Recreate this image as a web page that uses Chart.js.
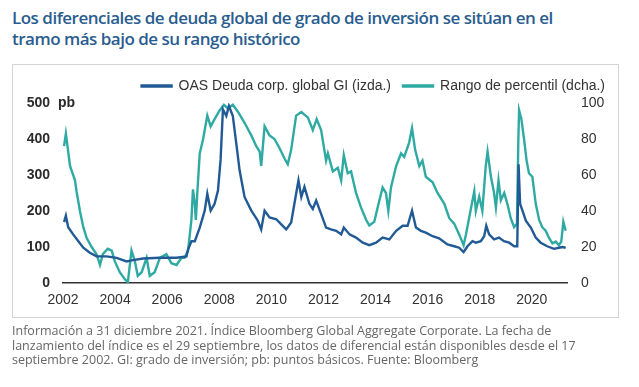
<!DOCTYPE html>
<html>
<head>
<meta charset="utf-8">
<script src="https://cdn.jsdelivr.net/npm/chart.js@4"></script>
<style>
  html, body { margin: 0; padding: 0; background: #fff; }
  body { width: 639px; height: 387px; position: relative; overflow: hidden; }
  #titulo {
    position: absolute; left: 12px; top: 7px;
    font-family: "Open Sans", sans-serif; font-size: 17px; line-height: 21px;
    font-weight: 600; color: #2a5d8f; letter-spacing: -0.5px;
  }
  #marco {
    position: absolute; left: 12px; top: 64px; width: 605px; height: 252px;
    border: 1px solid #d4d4d4;
  }
  #lienzo { position: absolute; left: 0; top: 0; width: 639px; height: 387px; }
  #nota {
    position: absolute; left: 12px; top: 324px;
    font-family: "Open Sans", sans-serif; font-size: 12.5px; line-height: 14.7px;
    color: #666;
  }
</style>
</head>
<body>
<div id="titulo">Los diferenciales de deuda global de grado de inversión se sitúan en el<br>tramo más bajo de su rango histórico</div>
<div id="marco"></div>
<div id="lienzo"><canvas id="grafico" width="639" height="387"></canvas></div>
<div id="nota">Información a 31 diciembre 2021. Índice Bloomberg Global Aggregate Corporate. La fecha de<br>lanzamiento del índice es el 29 septiembre, los datos de diferencial están disponibles desde el 17<br>septiembre 2002. GI: grado de inversión; pb: puntos básicos. Fuente: Bloomberg</div>
<script>
  // OAS (pb, eje izquierdo)
  var anosOas = [
    2002.04, 2002.11, 2002.20, 2002.39, 2002.59, 2002.78, 2003.03, 2003.29, 2003.67, 2004.06,
    2004.44, 2004.63, 2005.08, 2005.72, 2006.36, 2006.74, 2006.80, 2006.93, 2007.06, 2007.25,
    2007.44, 2007.54, 2007.67, 2007.82, 2007.95, 2008.05, 2008.14, 2008.27, 2008.37, 2008.52,
    2008.65, 2008.78, 2008.97, 2009.23, 2009.48, 2009.61, 2009.74, 2009.93, 2010.19, 2010.38,
    2010.57, 2010.76, 2010.95, 2011.04, 2011.15, 2011.27, 2011.46, 2011.59, 2011.72, 2011.91,
    2012.10, 2012.29, 2012.49, 2012.68, 2012.78, 2013.00, 2013.25, 2013.51, 2013.76, 2014.02,
    2014.27, 2014.53, 2014.79, 2015.04, 2015.23, 2015.40, 2015.55, 2015.74, 2015.93, 2016.19,
    2016.44, 2016.76, 2017.02, 2017.21, 2017.38, 2017.53, 2017.72, 2017.85, 2018.04, 2018.17,
    2018.25, 2018.36, 2018.55, 2018.74, 2018.93, 2019.13, 2019.32, 2019.44, 2019.49, 2019.55,
    2019.64, 2019.77, 2019.96, 2020.15, 2020.34, 2020.59, 2020.85, 2021.04, 2021.17, 2021.30
  ];
  var oas = [
    169, 187, 155, 135, 116, 98, 84, 74, 74, 70,
    60, 63, 68, 70, 70, 74, 93, 116, 116, 154,
    201, 248, 201, 220, 257, 342, 482, 464, 492, 464,
    389, 313, 239, 201, 173, 149, 201, 182, 177, 163,
    149, 168, 248, 285, 239, 267, 220, 206, 229, 192,
    154, 149, 145, 135, 154, 135, 126, 112, 105, 112,
    126, 121, 145, 159, 159, 201, 154, 145, 140, 130,
    124, 107, 102, 98, 86, 102, 116, 112, 116, 130,
    159, 135, 121, 126, 116, 112, 102, 102, 330, 220,
    201, 173, 154, 126, 112, 102, 95, 98, 100, 98
  ];

  // Rango de percentil (eje derecho)
  var anosPercentil = [
    2002.04, 2002.11, 2002.27, 2002.46, 2002.52, 2002.65, 2002.78, 2002.91, 2003.10, 2003.29,
    2003.42, 2003.53, 2003.72, 2003.87, 2003.99, 2004.18, 2004.38, 2004.49, 2004.63, 2004.76,
    2004.87, 2005.02, 2005.21, 2005.33, 2005.52, 2005.72, 2005.97, 2006.16, 2006.36, 2006.55,
    2006.67, 2006.80, 2006.93, 2006.99, 2007.06, 2007.10, 2007.16, 2007.25, 2007.38, 2007.54,
    2007.67, 2007.82, 2008.02, 2008.18, 2008.33, 2008.52, 2008.72, 2008.97, 2009.23, 2009.42,
    2009.55, 2009.61, 2009.74, 2009.93, 2010.12, 2010.31, 2010.51, 2010.63, 2010.76, 2010.95,
    2011.15, 2011.40, 2011.59, 2011.74, 2011.91, 2012.10, 2012.17, 2012.36, 2012.55, 2012.68,
    2012.78, 2012.93, 2013.06, 2013.25, 2013.44, 2013.64, 2013.76, 2013.95, 2014.08, 2014.27,
    2014.40, 2014.49, 2014.59, 2014.79, 2014.98, 2015.10, 2015.29, 2015.40, 2015.52, 2015.68,
    2015.80, 2015.93, 2016.19, 2016.38, 2016.64, 2016.83, 2017.02, 2017.21, 2017.38, 2017.47,
    2017.59, 2017.79, 2017.85, 2017.98, 2018.10, 2018.23, 2018.30, 2018.43, 2018.55, 2018.62,
    2018.72, 2018.81, 2018.94, 2019.06, 2019.19, 2019.32, 2019.43, 2019.48, 2019.51, 2019.60,
    2019.70, 2019.80, 2019.89, 2020.02, 2020.15, 2020.28, 2020.40, 2020.53, 2020.66, 2020.79,
    2020.92, 2021.04, 2021.13, 2021.21, 2021.30
  ];
  var percentil = [
    76, 83, 65, 57, 51, 40, 31, 25, 20, 16,
    10, 16, 19, 18, 12, 6, 2, 0.5, 18, 12,
    4, 6, 14, 4, 6, 14, 16, 11, 10, 14,
    14, 18, 35, 52, 44, 35, 51, 72, 80, 93,
    87, 91, 96, 99, 97, 99, 95, 89, 82, 76,
    73, 65, 87, 82, 80, 75, 69, 66, 74, 93,
    95, 92, 85, 91, 85, 68, 72, 62, 64, 57,
    71, 61, 62, 50, 42, 35, 32, 34, 42, 53,
    50, 40, 53, 65, 72, 70, 78, 86, 74, 65,
    68, 59, 56, 50, 44, 36, 33, 27, 21, 27,
    36, 51, 40, 48, 40, 65, 73, 59, 50, 42,
    57, 46, 50, 44, 36, 31, 33, 78, 96, 91,
    80, 68, 61, 59, 44, 35, 31, 29, 25, 22,
    23, 21, 23, 34, 29
  ];

  var etiquetasX = [2002, 2004, 2006, 2008, 2010, 2012, 2014, 2016, 2018, 2020];
  var etiquetasIzq = [0, 100, 200, 300, 400, 500];
  var etiquetasDer = [0, 20, 40, 60, 80, 100];

  var AZUL = '#215a94';
  var TURQUESA = '#2faaa2';

  function puntos(xs, ys) {
    return xs.map(function (x, i) { return { x: x, y: ys[i] }; });
  }

  // "pb" junto a la etiqueta superior del eje izquierdo
  var unidadPb = {
    id: 'unidadPb',
    afterDraw: function (chart) {
      var ctx = chart.ctx;
      var y = chart.scales.y;
      ctx.save();
      ctx.font = 'bold 14px "Liberation Sans", Arial, sans-serif';
      ctx.fillStyle = '#2b2b2b';
      ctx.textBaseline = 'middle';
      ctx.textAlign = 'left';
      ctx.fillText('pb', chart.chartArea.left - 5, y.getPixelForValue(500));
      ctx.restore();
    }
  };

  Chart.defaults.font.family = '"Liberation Sans", Arial, sans-serif';
  Chart.defaults.font.size = 14;
  Chart.defaults.color = '#333';

  new Chart(document.getElementById('grafico'), {
    type: 'line',
    data: {
      datasets: [
        {
          label: 'OAS Deuda corp. global GI (izda.)',
          data: puntos(anosOas, oas),
          borderColor: AZUL,
          backgroundColor: AZUL,
          borderWidth: 2.4,
          pointRadius: 0,
          tension: 0,
          yAxisID: 'y',
          order: 1,
        },
        {
          label: 'Rango de percentil (dcha.)',
          data: puntos(anosPercentil, percentil),
          borderColor: TURQUESA,
          backgroundColor: TURQUESA,
          borderWidth: 2.4,
          pointRadius: 0,
          tension: 0,
          yAxisID: 'y2',
          order: 2,
        },
      ],
    },
    options: {
      responsive: false,
      animation: false,
      layout: { padding: { top: 67, right: 22, left: 0, bottom: 0 } },
      plugins: {
        legend: {
          position: 'top',
          align: 'end',
          labels: {
            boxWidth: 30,
            boxHeight: 1,
            padding: 12,
            color: '#333',
            font: { size: 14 },
          },
        },
        tooltip: { enabled: false },
      },
      scales: {
        x: {
          type: 'linear',
          min: 2002,
          max: 2021.35,
          afterBuildTicks: function (scale) {
            scale.ticks = etiquetasX.map(function (v) { return { value: v }; });
          },
          afterFit: function (scale) { scale.height = 104; },
          grid: { display: false, drawOnChartArea: false, drawTicks: true, tickLength: 6, tickColor: '#333' },
          border: { display: true, color: '#333', width: 1.5 },
          ticks: {
            padding: 3,
            color: '#333',
            callback: function (v) { return String(v); },
          },
        },
        y: {
          position: 'left',
          min: 0,
          max: 500,
          afterBuildTicks: function (scale) {
            scale.ticks = etiquetasIzq.map(function (v) { return { value: v }; });
          },
          afterFit: function (scale) { scale.width = 63; },
          grid: { display: false, drawTicks: false },
          border: { display: false },
          ticks: { padding: 13, color: '#2b2b2b', font: { weight: 'bold' } },
        },
        y2: {
          position: 'right',
          min: 0,
          max: 100,
          afterBuildTicks: function (scale) {
            scale.ticks = etiquetasDer.map(function (v) { return { value: v }; });
          },
          afterFit: function (scale) { scale.width = 50; },
          grid: { display: false, drawTicks: false },
          border: { display: false },
          ticks: { padding: 14, color: '#333' },
        },
      },
    },
    plugins: [unidadPb],
  });
</script>
</body>
</html>
